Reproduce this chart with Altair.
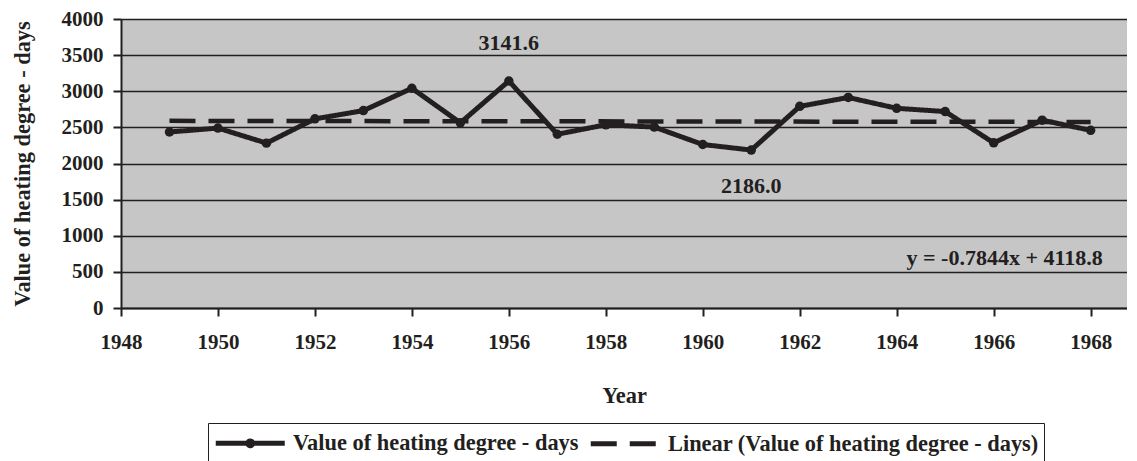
import altair as alt
import pandas as pd

years = list(range(1949, 1969))
values = [2436, 2490, 2282, 2618, 2732, 3041, 2563, 3141.6, 2405, 2536,
          2504, 2263, 2186.0, 2791, 2914, 2764, 2719, 2286, 2600, 2459]

trend_years = [1949, 1968]
trend_values = [2590.0, 2575.1]

series_names = ["Value of heating degree - days",
                "Linear (Value of heating degree - days)"]

ann_text = ["3141.6", "2186.0"]
ann_x = [1956, 1961]
ann_y = [3670, 1685]

eq_text = ["y = -0.7844x + 4118.8"]
eq_x = [1968.25]
eq_y = [690]

x_ticks = list(range(1948, 1969, 2))
y_ticks = list(range(0, 4001, 500))

FONT = "Liberation Serif"
INK = "#231f20"
TXT = 22.4

# legend symbols: long horizontal stroke (one with a dot in the middle)
SYM_LINE_DOT = "M-1,0H4.634M1.62,0A0.197,0.197 0 1,0 2.014,0A0.197,0.197 0 1,0 1.62,0Z"
SYM_LINE = "M-1,0H4.4"

data_df = pd.DataFrame({"year": years, "value": values, "series": series_names[0]})
trend_df = pd.DataFrame({"year": trend_years, "value": trend_values, "series": series_names[1]})
ann_df = pd.DataFrame({"year": ann_x, "value": ann_y, "text": ann_text})
eq_df = pd.DataFrame({"year": eq_x, "value": eq_y, "text": eq_text})

x_scale = alt.Scale(domain=[1948, 1968.75], nice=False, zero=False)
y_scale = alt.Scale(domain=[0, 4000], nice=False)

x_enc = alt.X("year:Q", scale=x_scale,
              axis=alt.Axis(title="Year", values=x_ticks, format="d",
                            grid=False, tickSize=8, labelPadding=15,
                            labelFlush=False, titlePadding=32))
y_enc = alt.Y("value:Q", scale=y_scale,
              axis=alt.Axis(title="Value of heating degree - days", values=y_ticks,
                            format="d", grid=True, tickSize=8, labelPadding=10,
                            labelFlush=False, titlePadding=27))

color_scale = alt.Scale(domain=series_names, range=[INK, INK])
dash_scale = alt.Scale(domain=series_names, range=[[1, 0], [26, 13]])
shape_scale = alt.Scale(domain=series_names, range=[SYM_LINE_DOT, SYM_LINE])
legend = alt.Legend(title=None, orient="none", legendX=87, legendY=404,
                    direction="horizontal",
                    symbolSize=600, symbolStrokeWidth=5,
                    symbolFillColor=INK, symbolStrokeColor=INK,
                    labelFont=FONT, labelFontSize=TXT, labelFontWeight="bold",
                    labelColor=INK, labelLimit=700, columnPadding=1,
                    labelOffset=50, strokeColor=INK, padding=5)

trend = alt.Chart(trend_df).mark_line(strokeWidth=4.5).encode(
    x=x_enc, y=y_enc,
    color=alt.Color("series:N", scale=color_scale, legend=legend),
    strokeDash=alt.StrokeDash("series:N", scale=dash_scale, legend=legend),
)

line = alt.Chart(data_df).mark_line(strokeWidth=5, point=alt.OverlayMarkDef(size=90, filled=True, color=INK, opacity=1)).encode(
    x=x_enc, y=y_enc,
    color=alt.Color("series:N", scale=color_scale, legend=legend),
    strokeDash=alt.StrokeDash("series:N", scale=dash_scale, legend=legend),
)

# legend-only layer (no rows survive the filter) carrying the symbol shapes
legend_layer = alt.Chart(data_df).mark_point(filled=True).encode(
    x=x_enc, y=y_enc,
    color=alt.Color("series:N", scale=color_scale, legend=legend),
    strokeDash=alt.StrokeDash("series:N", scale=dash_scale, legend=legend),
    shape=alt.Shape("series:N", scale=shape_scale, legend=legend),
).transform_filter("false")

ann = alt.Chart(ann_df).mark_text(font=FONT, fontSize=22, fontWeight="bold", color=INK).encode(
    x=x_enc, y=y_enc, text="text:N")

eq = alt.Chart(eq_df).mark_text(font=FONT, fontSize=22, fontWeight="bold", color=INK, align="right").encode(
    x=x_enc, y=y_enc, text="text:N")

chart = alt.layer(trend, line, legend_layer, ann, eq).properties(
    width=1006, height=289,
    padding={"left": 2, "top": 0, "right": 0, "bottom": 0},
).configure(background="white").configure_view(
    fill="#c6c6c6", stroke="#8a8a8a", strokeWidth=1
).configure_axis(
    labelFont=FONT, labelFontSize=21, labelFontWeight="bold", labelColor=INK,
    titleFont=FONT, titleFontSize=TXT, titleFontWeight="bold", titleColor=INK,
    domainColor=INK, domainWidth=2, tickColor=INK, tickWidth=2,
    gridColor=INK, gridWidth=1.5, gridOpacity=1,
)

chart.save("out.html", embed_options={"renderer": "svg", "actions": False})
